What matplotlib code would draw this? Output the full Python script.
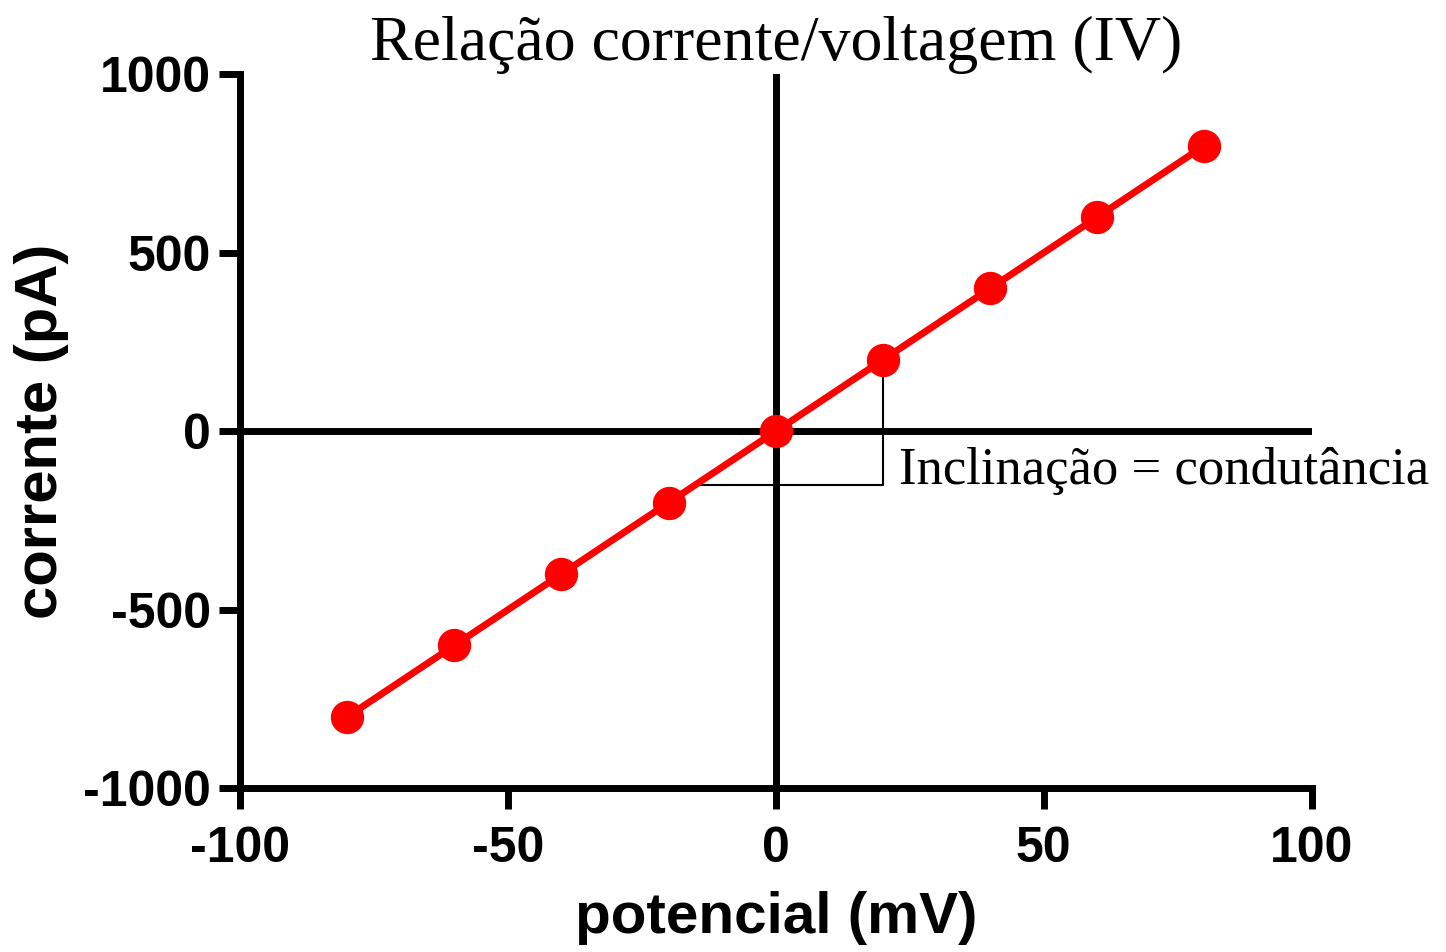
import matplotlib
matplotlib.use("Agg")
import matplotlib.pyplot as plt

# potencial (mV) vs corrente (pA)
potencial = [-80, -60, -40, -20, 0, 20, 40, 60, 80]
corrente = [-800, -600, -400, -200, 0, 200, 400, 600, 800]

# slope triangle corners
tri_x = [-15, 20, 20]
tri_y = [-150, -150, 200]

x_ticks = [-100, -50, 0, 50, 100]
y_ticks = [-1000, -500, 0, 500, 1000]

plt.rcParams['axes.unicode_minus'] = False

fig = plt.figure(figsize=(14.46, 9.52), dpi=100)
ax = fig.add_axes([0.166, 0.172, 0.741, 0.750])

ax.axhline(0, color="black", lw=5, zorder=1)
ax.axvline(0, color="black", lw=5, zorder=1)
ax.plot(tri_x, tri_y, color="black", lw=1.5, zorder=2)
ax.plot(potencial, corrente, color="red", lw=5, marker="o", ms=23, zorder=3)

ax.text(23, -110, "Inclinação = condutância", family="Liberation Serif",
        fontsize=38, va="center", ha="left")

ax.set_xlim(-100, 100)
ax.set_ylim(-1000, 1000)
ax.set_xticks(x_ticks)
ax.set_yticks(y_ticks)

for s in ["top", "right"]:
    ax.spines[s].set_visible(False)
for s in ["left", "bottom"]:
    ax.spines[s].set_linewidth(5)

ax.tick_params(length=15, width=5, labelsize=36, pad=6)
ax.tick_params(axis="x", pad=12)
for lab in ax.get_xticklabels() + ax.get_yticklabels():
    lab.set_family("Liberation Sans")
    lab.set_fontweight("bold")

ax.set_xlabel("potencial (mV)", family="Liberation Sans", fontweight="bold",
              fontsize=42, labelpad=14)
ax.set_ylabel("corrente (pA)", family="Liberation Sans", fontweight="bold",
              fontsize=43, labelpad=10)
ax.set_title("Relação corrente/voltagem (IV)", family="Liberation Serif",
             fontsize=46, pad=4)

fig.savefig("out.png", dpi=100)
